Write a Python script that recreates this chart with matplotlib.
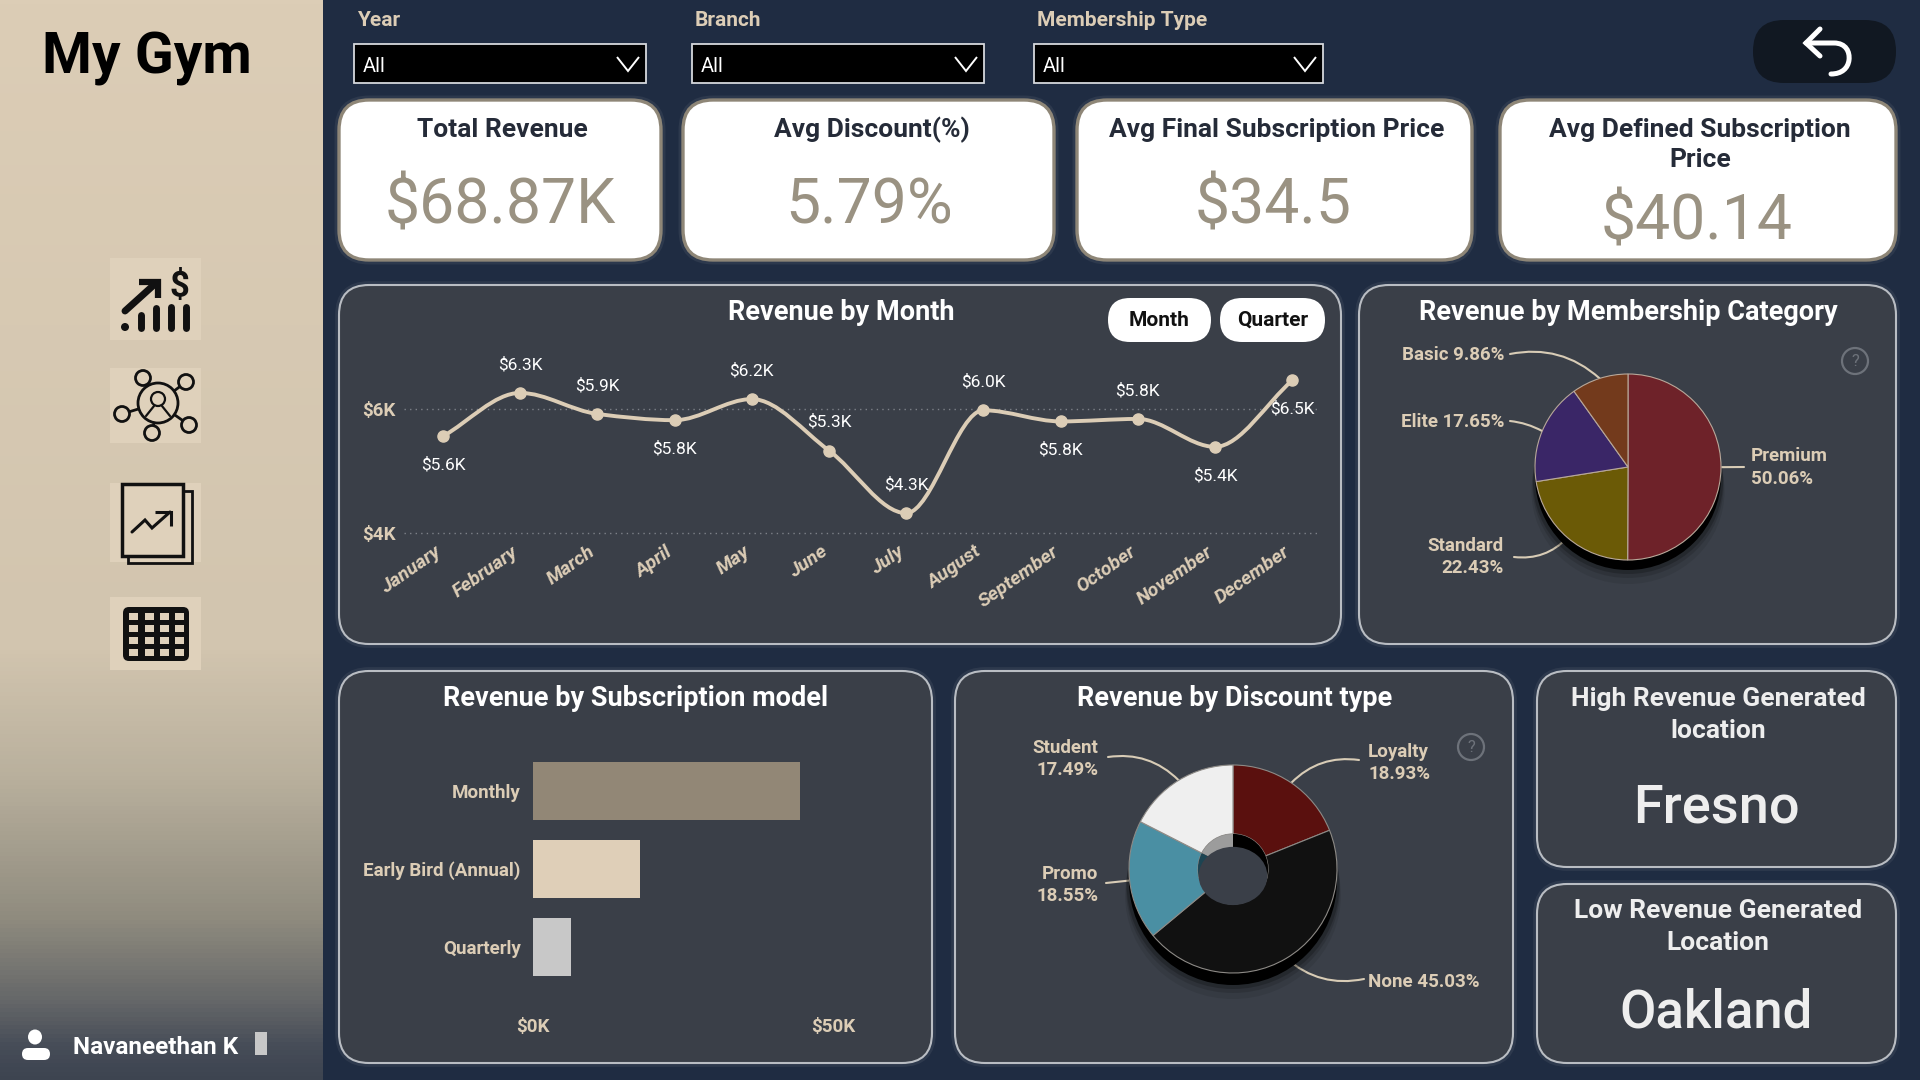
import matplotlib
matplotlib.use("Agg")
import matplotlib.pyplot as plt
import numpy as np
from matplotlib.colors import LinearSegmentedColormap
from matplotlib.patches import Circle, Ellipse, FancyBboxPatch, PathPatch, Rectangle
from matplotlib.path import Path
from matplotlib.transforms import ScaledTranslation

plt.rcParams['font.family'] = ['Roboto', 'DejaVu Sans']

months = ['January', 'February', 'March', 'April', 'May', 'June', 'July',
          'August', 'September', 'October', 'November', 'December']
month_revenue = [5.56, 6.26, 5.92, 5.82, 6.16, 5.33, 4.32, 5.98, 5.80, 5.84, 5.39, 6.46]
month_labels = ['$5.6K', '$6.3K', '$5.9K', '$5.8K', '$6.2K', '$5.3K', '$4.3K',
                '$6.0K', '$5.8K', '$5.8K', '$5.4K', '$6.5K']
month_label_side = [-1, 1, 1, -1, 1, 1, 1, 1, -1, 1, -1, -1]

member_names = ['Premium', 'Standard', 'Elite', 'Basic']
member_share = [50.06, 22.43, 17.65, 9.86]
member_colors = ['#6e2229', '#6b5a06', '#3a2667', '#733a1c']

discount_names = ['Loyalty', 'None', 'Promo', 'Student']
discount_share = [18.93, 45.03, 18.55, 17.49]
discount_colors = ['#5a100e', '#111111', '#4a8fa3', '#efefef']
discount_wall = ['#000000', '#000000', '#1d4452', '#9c9c9c']

sub_models = ['Monthly', 'Early Bird (Annual)', 'Quarterly']
sub_revenue = [44.5, 17.9, 6.4]
sub_colors = ['#928776', '#dfcfb8', '#c8c8c8']

BG = '#1f2c42'
PANEL = '#3a3f48'
TAN = '#dccdb6'
EDGE = '#b9bdc3'
DARK = '#252b38'
VALUE = '#9a9282'

fig = plt.figure(figsize=(19.2, 10.8), dpi=100, facecolor=BG)


def px_axes(left, top, right, bottom):
    return fig.add_axes([left / 1920, 1 - bottom / 1080, (right - left) / 1920, (bottom - top) / 1080])


bg = fig.add_axes([0, 0, 1, 1], zorder=0)
bg.set_axis_off()

# sidebar gradient
side_cmap = LinearSegmentedColormap.from_list('side', [
    (0, '#dccdb6'), (0.6, '#d2c5af'), (0.72, '#b9b09d'), (0.85, '#908c7f'),
    (0.93, '#646668'), (0.97, '#474d58'), (1, '#3d4450')])
bg.imshow(np.linspace(0, 1, 256)[:, None], cmap=side_cmap, extent=(0, 323, 1080, 0), aspect='auto')
bg.set_xlim(0, 1920)
bg.set_ylim(1080, 0)


def card(x0, y0, x1, y1, r=30, face=PANEL, edge=EDGE, lw=1.5):
    # soft glow around the card
    bg.add_patch(FancyBboxPatch((x0, y0), x1 - x0, y1 - y0, boxstyle=f'round,pad=0,rounding_size={r}',
                                fc='none', ec='#5a6270', lw=lw + 4, alpha=0.25))
    bg.add_patch(FancyBboxPatch((x0, y0), x1 - x0, y1 - y0, boxstyle=f'round,pad=0,rounding_size={r}',
                                fc=face, ec=edge, lw=lw))


def label(x, y, s, size, color='white', weight='bold', ha='center', **kw):
    # roboto sits a little high when centred
    bg.text(x, y + 2, s, fontsize=size, color=color, fontweight=weight, ha=ha, va='center', **kw)


def poly(points, lw=2.0, color='black', cap='round'):
    xs, ys = zip(*points)
    bg.plot(xs, ys, color=color, lw=lw, solid_capstyle=cap, solid_joinstyle='miter')


# sidebar
label(147, 56, 'My Gym', 41, color='black')
for top, bottom in [(258, 340), (368, 443), (483, 562), (597, 670)]:
    bg.add_patch(Rectangle((110, top), 91, bottom - top, fc='#dfd1bb', ec='none'))

# revenue icon
bg.add_patch(Circle((125, 327), 4, fc='#111111', ec='none'))
for x, y in [(141, 315), (156, 308), (171, 307), (186, 307)]:
    poly([(x, y), (x, 328)], lw=5, color='#111111')
poly([(125, 311), (156, 283)], lw=5, color='#111111')
poly([(139, 282), (158, 282), (158, 298)], lw=4.5, color='#111111', cap='butt')
label(179, 284, '$', 25, color='#111111')

# network icon
for x, y in [(143, 378), (186, 382), (122, 414), (189, 425), (152, 433)]:
    poly([(158, 403), (x, y)], lw=2, color='#111111')
    bg.add_patch(Circle((x, y), 7.5, fc='#dfd1bb', ec='#111111', lw=2, zorder=3))
bg.add_patch(Circle((158, 403), 20, fc='#dfd1bb', ec='#111111', lw=2, zorder=3))
bg.add_patch(Circle((158, 399), 7, fc='none', ec='#111111', lw=1.6, zorder=4))
poly([(154, 406), (146, 416)], lw=1.6, color='#111111')
bg.lines[-1].set_zorder(4)
poly([(162, 406), (170, 416)], lw=1.6, color='#111111')
bg.lines[-1].set_zorder(4)

# report icon
bg.add_patch(Rectangle((122, 484), 61, 72, fc='none', ec='#111111', lw=2.5))
poly([(183, 491), (192, 491), (192, 563), (128, 563), (128, 556)], lw=2, color='#111111', cap='butt')
poly([(132, 532), (145, 520), (152, 528), (170, 512)], lw=2.2, color='#111111')
poly([(155, 512), (171, 512), (171, 526)], lw=2.2, color='#111111', cap='butt')

# table icon
bg.add_patch(FancyBboxPatch((123, 607), 66, 54, boxstyle='round,pad=0,rounding_size=6', fc='#111111', ec='none'))
for cx in [133, 149, 164, 179]:
    for cy in [616, 628, 640, 652]:
        bg.add_patch(Rectangle((cx - 4.5, cy - 3.5), 9, 7, fc='#dfd1bb', ec='none'))

# user
bg.add_patch(Ellipse((35, 1037), 14, 15, fc='white', ec='none'))
bg.add_patch(FancyBboxPatch((22, 1048), 28, 12, boxstyle='round,pad=0,rounding_size=6', fc='white', ec='none'))
label(73, 1045, 'Navaneethan K', 17.5, ha='left')
bg.add_patch(Rectangle((255, 1032), 12, 23, fc='#c8c8c8', ec='none'))

# slicers
for x0, x1, title in [(354, 646, 'Year'), (692, 984, 'Branch'), (1034, 1323, 'Membership Type')]:
    label(x0 + 3, 19, title, 15, color=TAN, ha='left')
    bg.add_patch(Rectangle((x0, 44), x1 - x0, 39, fc='black', ec='#d5d8dc', lw=1.3))
    label(x0 + 9, 64, 'All', 14.5, weight='normal', ha='left')
    poly([(x1 - 29, 57), (x1 - 18, 71), (x1 - 7, 57)], lw=1.4, color='white', cap='butt')

# back button
bg.add_patch(FancyBboxPatch((1753, 20), 143, 63, boxstyle='round,pad=0,rounding_size=31', fc='#111822', ec='none'))
back_path = Path([(1806, 43), (1834, 43), (1846, 43), (1850, 52), (1849, 60), (1848, 68), (1842, 74), (1831, 74)],
                 [Path.MOVETO, Path.LINETO, Path.CURVE4, Path.CURVE4, Path.CURVE4, Path.CURVE4, Path.CURVE4, Path.CURVE4])
bg.add_patch(PathPatch(back_path, fc='none', ec='white', lw=3.6, capstyle='round'))
poly([(1820, 29), (1806, 43), (1820, 56)], lw=3.6, color='white')

# KPI cards
kpis = [(339, 661, 502, 500, 'Total Revenue', '$68.87K', 204),
        (683, 1054, 872, 869, 'Avg Discount(%)', '5.79%', 204),
        (1077, 1472, 1277, 1273, 'Avg Final Subscription Price', '$34.5', 204),
        (1500, 1896, 1700, 1697, 'Avg Defined Subscription\nPrice', '$40.14', 220)]
for x0, x1, tx, vx, title, value, vy in kpis:
    card(x0, 100, x1, 260, face='white', edge='#8e8677', lw=2.4)
    if '\n' in title:
        first, second = title.split('\n')
        label(tx, 128, first, 19, color=DARK)
        label(tx, 158, second, 19, color=DARK)
    else:
        label(tx, 128, title, 19, color=DARK)
    label(vx, vy, value, 45, color=VALUE, weight='normal')

# chart panels
card(339, 285, 1341, 644)
card(1359, 285, 1896, 644)
card(339, 671, 932, 1063)
card(955, 671, 1513, 1063)
card(1537, 671, 1896, 867)
card(1537, 884, 1896, 1063)
label(841, 310, 'Revenue by Month', 19.5)
label(1628, 310, 'Revenue by Membership Category', 19.5)
label(636, 696, 'Revenue by Subscription model', 19.5)
label(1235, 696, 'Revenue by Discount type', 19.5)

label(1718, 697, 'High Revenue Generated', 19, color='#eeeeee')
label(1718, 729, 'location', 19, color='#eeeeee')
label(1716, 806, 'Fresno', 39, color='#eeeeee', weight='medium')
label(1718, 909, 'Low Revenue Generated', 19, color='#eeeeee')
label(1718, 941, 'Location', 19, color='#eeeeee')
label(1716, 1011, 'Oakland', 38, color='#eeeeee', weight='medium')

# month / quarter buttons
for x0, x1, s in [(1108, 1211, 'Month'), (1220, 1325, 'Quarter')]:
    bg.add_patch(FancyBboxPatch((x0, 298), x1 - x0, 44, boxstyle='round,pad=0,rounding_size=22', fc='white', ec='none'))
    label((x0 + x1) / 2, 318, s, 15, color='#111111')

# help icons
for cx, cy in [(1855, 361), (1471, 747)]:
    bg.add_patch(Circle((cx, cy), 13, fc='none', ec='#6d727a', lw=1.6))
    label(cx, cy - 2, '?', 12, color='#6d727a', weight='normal')


# line chart: smooth through the points with monotone tangents, as bezier segments
def smooth_path(xs, ys):
    xs = np.asarray(xs, dtype=float)
    ys = np.asarray(ys, dtype=float)
    slopes = np.diff(ys) / np.diff(xs)
    tang = np.zeros(len(ys))
    for i in range(1, len(ys) - 1):
        if slopes[i - 1] * slopes[i] > 0:
            tang[i] = 2 * slopes[i - 1] * slopes[i] / (slopes[i - 1] + slopes[i])
    tang[0] = slopes[0]
    tang[-1] = slopes[-1]
    verts = [(xs[0], ys[0])]
    codes = [Path.MOVETO]
    for i in range(len(xs) - 1):
        h = (xs[i + 1] - xs[i]) / 3
        verts += [(xs[i] + h, ys[i] + tang[i] * h), (xs[i + 1] - h, ys[i + 1] - tang[i + 1] * h), (xs[i + 1], ys[i + 1])]
        codes += [Path.CURVE4] * 3
    return Path(verts, codes)


ax = px_axes(404, 350, 1320, 540)
ax.patch.set_alpha(0)
ax.set_zorder(1)
x = np.arange(len(months))
ax.add_patch(PathPatch(smooth_path(x, month_revenue), fc='none', ec=TAN, lw=2.8, capstyle='round', clip_on=False))
ax.plot(x, month_revenue, 'o', color=TAN, ms=8, clip_on=False)
for xi, yi, s, side in zip(x, month_revenue, month_labels, month_label_side):
    ax.annotate(s, (xi, yi), xytext=(0, 20.5 * side), textcoords='offset points', ha='center', va='center',
                color='white', fontsize=12.5, annotation_clip=False)
ax.set_xlim(-0.505, 11.36)
ax.set_ylim(3.887, 6.952)
ax.set_yticks([4, 6], ['$4K', '$6K'], color=TAN, fontsize=13.5, fontweight='bold')
ax.set_xticks(x, months, color=TAN, fontsize=14, fontweight='bold', fontstyle='italic',
              rotation=35, ha='right', rotation_mode='anchor')
ax.tick_params(length=0, axis='y', pad=6)
ax.tick_params(length=0, axis='x', pad=2)
# labels end a little left of their tick
shift = ScaledTranslation(-9 / 100, 0, fig.dpi_scale_trans)
for tick_label in ax.get_xticklabels():
    tick_label.set_transform(tick_label.get_transform() + shift)
ax.yaxis.grid(True, linestyle=(0, (1, 3)), color='#7d8188', lw=1)
ax.set_axisbelow(True)
for s in ax.spines.values():
    s.set_visible(False)


def draw_pie(center, radius, shares, colors, shadow, edge, start_width=None):
    pie_ax = px_axes(center[0] - radius, center[1] - radius, center[0] + radius, center[1] + radius)
    pie_ax.set_zorder(1)
    for step, alpha in [(shadow + 14, 0.08), (shadow + 8, 0.12), (shadow + 4, 0.2)]:
        pie_ax.add_patch(Ellipse((0, -step / radius), 2 + step / radius * 0.3, 2, fc='black', ec='none', alpha=alpha, clip_on=False))
    pie_ax.add_patch(Ellipse((0, -shadow / radius), 2, 2, fc='black', ec='none', clip_on=False))
    props = dict(edgecolor=edge, linewidth=0.8, clip_on=False)
    if start_width:
        props['width'] = start_width
    pie_ax.pie(shares, colors=colors, startangle=90, counterclock=False, radius=1, wedgeprops=props)
    pie_ax.set_xlim(-1, 1)
    pie_ax.set_ylim(-1, 1)
    return pie_ax


def leader(center, radius, shares, index, end, rad):
    # line from the middle of a slice out to its label
    start = sum(shares[:index]) + shares[index] / 2
    angle = 2 * np.pi * start / sum(shares)
    tip = (center[0] + radius * np.sin(angle), center[1] - radius * np.cos(angle))
    bg.annotate('', xy=tip, xytext=end,
                arrowprops=dict(arrowstyle='-', color='#d8ccb6', lw=1.5, shrinkA=0, shrinkB=0,
                                connectionstyle=f'arc3,rad={rad}'))


# membership pie
m_c = (1628, 467)
m_r = 93
draw_pie(m_c, m_r, member_share, member_colors, 10, '#b8a89a')
leader(m_c, m_r, member_share, 3, (1510, 354), -0.25)
leader(m_c, m_r, member_share, 2, (1510, 421), -0.1)
leader(m_c, m_r, member_share, 1, (1514, 557), 0.25)
leader(m_c, m_r, member_share, 0, (1744, 467), 0)
label(1504, 353, f'Basic {member_share[3]}%', 13.5, color=TAN, ha='right')
label(1504, 420, f'Elite {member_share[2]}%', 13.5, color=TAN, ha='right')
label(1504, 544, 'Standard', 13.5, color=TAN, ha='right')
label(1504, 566, f'{member_share[1]}%', 13.5, color=TAN, ha='right')
label(1751, 454, 'Premium', 13.5, color=TAN, ha='left')
label(1751, 477, f'{member_share[0]}%', 13.5, color=TAN, ha='left')

# discount donut
d_c = (1233, 869)
d_r = 104
d_ax = draw_pie(d_c, d_r, discount_share, discount_colors, 12, '#8d8a86', start_width=0.663)
d_ax.pie(discount_share, colors=discount_wall, startangle=90, counterclock=False, radius=0.337,
         wedgeprops=dict(linewidth=0))
d_ax.add_patch(Ellipse((0, -0.067), 0.66, 0.56, fc=PANEL, ec='none', zorder=5))
d_ax.set_xlim(-1, 1)
d_ax.set_ylim(-1, 1)
leader(d_c, d_r, discount_share, 0, (1359, 760), 0.25)
leader(d_c, d_r, discount_share, 1, (1364, 979), -0.25)
leader(d_c, d_r, discount_share, 2, (1106, 883), 0)
leader(d_c, d_r, discount_share, 3, (1108, 757), -0.25)
label(1098, 746, 'Student', 13.5, color=TAN, ha='right')
label(1098, 768, f'{discount_share[3]}%', 13.5, color=TAN, ha='right')
label(1368, 750, 'Loyalty', 13.5, color=TAN, ha='left')
label(1368, 772, f'{discount_share[0]}%', 13.5, color=TAN, ha='left')
label(1098, 872, 'Promo', 13.5, color=TAN, ha='right')
label(1098, 894, f'{discount_share[2]}%', 13.5, color=TAN, ha='right')
label(1368, 980, f'None {discount_share[1]}%', 13.5, color=TAN, ha='left')

# subscription bars
bar_ax = px_axes(533, 752, 833, 986)
bar_ax.patch.set_alpha(0)
bar_ax.set_zorder(1)
y = np.arange(len(sub_models))
bar_ax.barh(y, sub_revenue, height=0.75, color=sub_colors)
bar_ax.set_xlim(0, 50)
bar_ax.set_ylim(2.5, -0.5)
bar_ax.set_yticks(y, sub_models, color=TAN, fontsize=13.5, fontweight='bold')
bar_ax.set_xticks([0, 50], ['$0K', '$50K'], color=TAN, fontsize=13.5, fontweight='bold')
bar_ax.tick_params(length=0, axis='y', pad=9)
bar_ax.tick_params(length=0, axis='x', pad=23)
for s in bar_ax.spines.values():
    s.set_visible(False)

fig.savefig('out.png', dpi=100, facecolor=BG)
plt.close(fig)
